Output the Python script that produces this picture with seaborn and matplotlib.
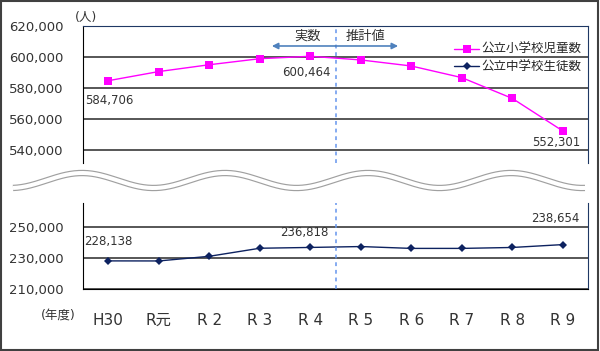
import numpy as np
import pandas as pd
import matplotlib
matplotlib.use('Agg')
import matplotlib.pyplot as plt
from matplotlib.lines import Line2D
from matplotlib.patches import Rectangle
import seaborn as sns

# データ
years = ['H30', 'R元', 'R 2', 'R 3', 'R 4', 'R 5', 'R 6', 'R 7', 'R 8', 'R 9']
elementary = [584706, 590600, 595000, 598900, 600464, 598100, 594200, 586700, 573300, 552301]
junior = [228138, 228100, 231100, 236300, 236818, 237400, 236200, 236200, 236800, 238654]
elem_name = '公立小学校児童数'
junior_name = '公立中学校生徒数'

df = pd.DataFrame({'pos': range(len(years)), 'year': years,
                   'elementary': elementary, 'junior': junior})

sns.set_style('white')
plt.rcParams['font.family'] = ['DejaVu Sans', 'Noto Sans CJK JP']

W, H = 600, 351
fig = plt.figure(figsize=(6, 3.51), dpi=100)

def fx(px):
    return px / W

def fy(py):
    return 1 - py / H

ax_top = fig.add_axes([fx(83), fy(163), fx(505), 137 / H])
ax_bot = fig.add_axes([fx(83), fy(289), fx(505), 86 / H])

grid_c = '#3a3a3a'
navy = '#1F3864'
pink = '#FF00FF'
dark = '#0D2260'

sns.lineplot(data=df, x='pos', y='elementary', ax=ax_top, color=pink, lw=1.0,
             marker='s', markersize=6, markeredgewidth=0, label=elem_name)
sns.lineplot(data=df, x='pos', y='junior', ax=ax_bot, color=dark, lw=1.0,
             marker='D', markersize=4.5, markeredgewidth=0, label=junior_name)

for ax in (ax_top, ax_bot):
    ax.set_xlim(-0.5, len(years) - 0.5)
    ax.set_xlabel('')
    ax.set_ylabel('')
    ax.yaxis.grid(True, color=grid_c, lw=1.2)
    ax.set_axisbelow(True)
    ax.tick_params(axis='y', length=0, pad=14, labelsize=9.5, labelcolor='#333333')
    ax.spines['left'].set_color('black')
    ax.spines['right'].set_color(navy)
    ax.axvline(4.5, color='#6495ED', lw=1.1, ls=(0, (2.5, 2.5)))
    if ax.get_legend():
        ax.get_legend().remove()

ax_top.set_ylim(531600, 620000)
ax_top.set_yticks([540000, 560000, 580000, 600000, 620000])
ax_top.set_yticklabels(['540,000', '560,000', '580,000', '600,000', '620,000'])
ax_top.spines['bottom'].set_visible(False)
ax_top.spines['top'].set_color(navy)
ax_top.set_xticks([])

ax_bot.set_ylim(210000, 265500)
ax_bot.set_yticks([210000, 230000, 250000])
ax_bot.set_yticklabels(['210,000', '230,000', '250,000'])
ax_bot.spines['top'].set_visible(False)
ax_bot.spines['bottom'].set_color('black')
ax_bot.set_xticks(df['pos'])
ax_bot.set_xticklabels(years)
ax_bot.set_xticks(np.arange(0.5, len(years) - 1), minor=True)
ax_bot.tick_params(axis='x', which='major', length=0, pad=17, labelsize=11, labelcolor='#333333')
ax_bot.tick_params(axis='x', which='minor', direction='in', length=4, width=1, color='black')

# データラベル
lab = dict(fontsize=8.5, color='#333333', textcoords='offset points', va='center')
ax_top.annotate('584,706', (0, elementary[0]), xytext=(-17, -14), ha='left', **lab)
ax_top.annotate('600,464', (4, elementary[4]), xytext=(-3, -12), ha='center', **lab)
ax_top.annotate('552,301', (9, elementary[9]), xytext=(13, -8), ha='right', **lab)
ax_bot.annotate('228,138', (0, junior[0]), xytext=(0, 14), ha='center', **lab)
ax_bot.annotate('236,818', (4, junior[4]), xytext=(-4, 11), ha='center', **lab)
ax_bot.annotate('238,654', (9, junior[9]), xytext=(12, 19), ha='right', **lab)

# 実数 / 推計値 の矢印
arrow_c = '#4F81BD'
ap = dict(arrowstyle='-|>', color=arrow_c, lw=1.2, mutation_scale=9, shrinkA=0, shrinkB=0)
ax_top.annotate('', xy=(3.24, 607100), xytext=(4.5, 607100), arrowprops=ap)
ax_top.annotate('', xy=(5.74, 607100), xytext=(4.5, 607100), arrowprops=ap)
ax_top.text(3.94, 613500, '実数', ha='center', va='center', fontsize=9.5, color='#333333')
ax_top.text(5.10, 613500, '推計値', ha='center', va='center', fontsize=9.5, color='#333333')

# 凡例
handles = [Line2D([], [], color=pink, lw=1.0, marker='s', markersize=6, markeredgewidth=0),
           Line2D([], [], color=dark, lw=1.0, marker='D', markersize=4.5, markeredgewidth=0)]
fig.legend(handles, [elem_name, junior_name], loc='upper right',
           bbox_to_anchor=(fx(588), fy(37)), frameon=False, fontsize=9,
           handlelength=2.0, handletextpad=0.2, labelspacing=0.35, borderpad=0)

# 単位
fig.text(fx(86), fy(17), '(人)', ha='center', va='center', fontsize=9, color='#333333')
fig.text(fx(58), fy(315), '(年度)', ha='center', va='center', fontsize=9, color='#333333')

# 波線（省略記号）
wx = np.linspace(13, 585, 400)
wy = 180.5 - 7.5 * np.cos(2 * np.pi * (wx - 82) / 143)
fig.add_artist(Line2D(fx(wx), fy(wy), color='#A0A0A0', lw=4.6, solid_capstyle='butt'))
fig.add_artist(Line2D(fx(wx), fy(wy), color='white', lw=2.9, solid_capstyle='butt'))

# 外枠
fig.add_artist(Rectangle((0.002, 0.003), 0.995, 0.993, transform=fig.transFigure,
                         fill=False, edgecolor='#404040', lw=1.5))

fig.savefig('out.png', dpi=100)
